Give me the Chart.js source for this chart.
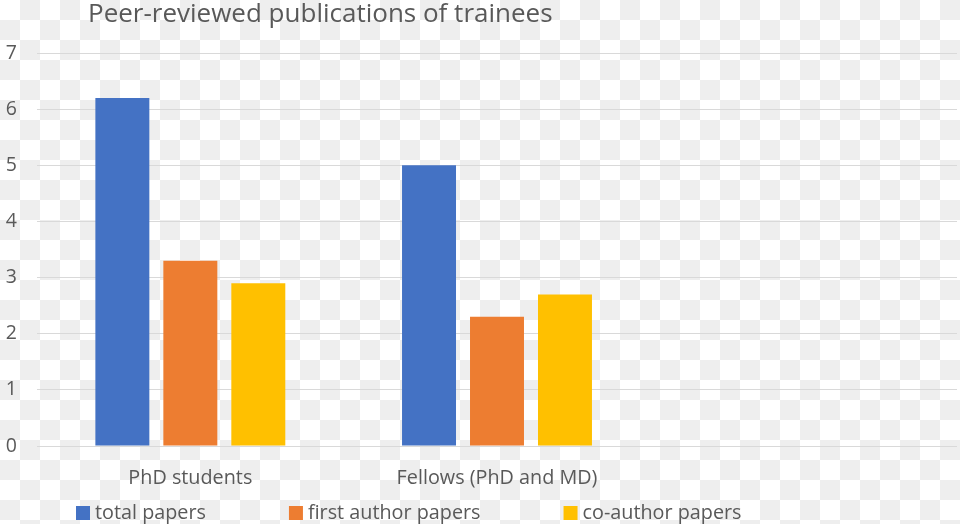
<!DOCTYPE html>
<html>
<head>
<meta charset="utf-8">
<script src="https://cdn.jsdelivr.net/npm/chart.js@4"></script>
<style>
  html, body { margin: 0; padding: 0; }
  body {
    width: 960px; height: 524px; overflow: hidden;
    background: repeating-conic-gradient(#eeeeee 0 25%, #ffffff 0 50%) 0 0 / 40px 40px;
  }
  #wrap { position: relative; width: 960px; height: 524px; }
</style>
</head>
<body>
<div id="wrap"><canvas id="chart"></canvas></div>
<script>
const categories = ["PhD students", "Fellows (PhD and MD)", ""];
const seriesNames = ["total papers", "first author papers", "co-author papers"];
const totalPapers = [6.2, 5.0];
const firstAuthorPapers = [3.3, 2.3];
const coAuthorPapers = [2.9, 2.7];
const yTicks = [0, 1, 2, 3, 4, 5, 6, 7];

const colors = ["#4472C4", "#ED7D31", "#FFC000"];
const textColor = "#595959";
const fontFamily = "'Open Sans', 'Noto Sans', sans-serif";

// title drawn left-ish like the original crop
const titlePlugin = {
    id: "titleText",
    afterDraw(chart) {
        const ctx = chart.ctx;
        ctx.save();
        ctx.fillStyle = textColor;
        ctx.font = "26px " + fontFamily;
        ctx.textBaseline = "alphabetic";
        ctx.textAlign = "left";
        ctx.fillText("Peer-reviewed publications of trainees", 88, 22);
        ctx.restore();
    }
};

// legend with Excel-like spacing
const legendPlugin = {
    id: "bottomLegend",
    afterDraw(chart) {
        const ctx = chart.ctx;
        ctx.save();
        ctx.font = "19.8px " + fontFamily;
        ctx.textBaseline = "middle";
        ctx.textAlign = "left";
        let x = 76;
        const y = 513;
        chart.data.datasets.forEach((ds) => {
            ctx.fillStyle = ds.backgroundColor;
            ctx.fillRect(x, y - 7, 14, 14);
            ctx.fillStyle = textColor;
            ctx.fillText(ds.label, x + 19, y);
            x += 19 + ctx.measureText(ds.label).width + 83;
        });
        ctx.restore();
    }
};

const ctx = document.getElementById("chart").getContext("2d");
new Chart(ctx, {
    type: "bar",
    data: {
        labels: categories,
        datasets: [
            { label: seriesNames[0], data: totalPapers, backgroundColor: colors[0] },
            { label: seriesNames[1], data: firstAuthorPapers, backgroundColor: colors[1] },
            { label: seriesNames[2], data: coAuthorPapers, backgroundColor: colors[2] }
        ]
    },
    options: {
        responsive: true,
        maintainAspectRatio: false,
        animation: false,
        layout: { padding: { top: 53, left: 0, right: 3, bottom: 0 } },
        datasets: {
            bar: { barPercentage: 0.794, categoryPercentage: 0.665 }
        },
        plugins: {
            legend: { display: false },
            title: { display: false },
            tooltip: { enabled: false }
        },
        scales: {
            x: {
                grid: { display: false, drawTicks: false },
                border: { display: false },
                ticks: {
                    color: textColor,
                    font: { family: fontFamily, size: 19.8 },
                    padding: 20,
                    maxRotation: 0
                },
                afterFit(scale) { scale.height = 78; }
            },
            y: {
                min: 0,
                max: 7,
                afterBuildTicks(scale) {
                    scale.ticks = yTicks.map(v => ({ value: v }));
                },
                grid: { color: "#d9d9d9", lineWidth: 1, drawTicks: false },
                border: { display: false },
                ticks: {
                    color: textColor,
                    font: { family: fontFamily, size: 19.5 },
                    padding: 20
                },
                afterFit(scale) { scale.width = 37; }
            }
        }
    },
    plugins: [titlePlugin, legendPlugin]
});
</script>
</body>
</html>
